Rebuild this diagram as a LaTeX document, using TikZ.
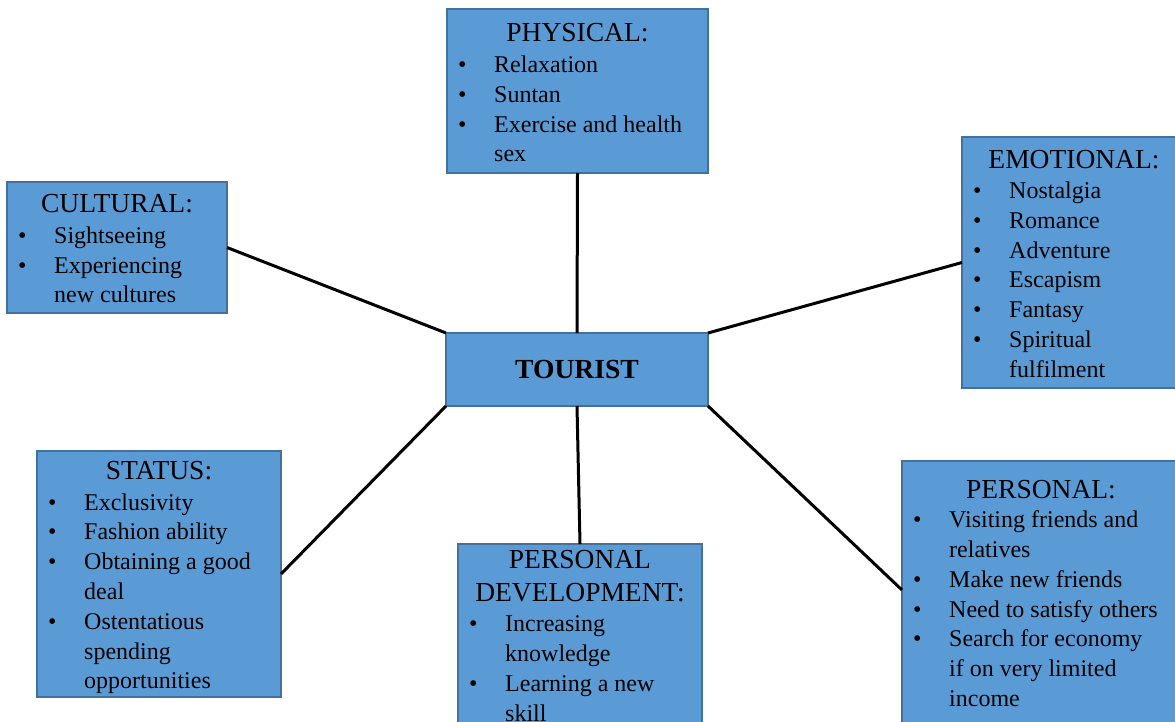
\documentclass[tikz,border=0pt]{standalone}
\usepackage{fontspec}
\setmainfont{Liberation Serif}
\definecolor{boxfill}{HTML}{5B9BD5}
\definecolor{boxline}{HTML}{41719C}
% type sizes for the box headings and the bullet lists
\newcommand\titlesize{\fontsize{27.5}{33}\selectfont}
\newcommand\itemsize{\fontsize{24}{29.8}\selectfont}
% one bulleted line, and a continuation line of the same item
\newcommand\bul[1]{\par\noindent\makebox[47pt][l]{\hspace{11pt}\textbullet}#1}
\newcommand\cont[1]{\par\noindent\hspace*{47pt}#1}
\newcommand\titleblock[1]{\begin{minipage}[t]{300pt}\centering\titlesize #1\end{minipage}}
\newcommand\itemblock[1]{\begin{minipage}[t]{320pt}\raggedright\itemsize #1\end{minipage}}
\begin{document}
\begin{tikzpicture}[x=1pt,y=-1pt,
  box/.style={rectangle, draw=boxline, fill=boxfill, line width=1.3pt,
    inner sep=0pt, outer sep=0pt, anchor=north west},
  ttl/.style={anchor=base, inner sep=0pt},
  itm/.style={anchor=base west, inner sep=0pt},
  link/.style={draw=black, line width=3pt}]
\path[use as bounding box, clip] (0,0) rectangle (1175,722);
\fill[white] (0,0) rectangle (1175,722);

% category boxes
\node[box, minimum width=261pt, minimum height=164pt] (phys) at (447,9) {};
\node[box, minimum width=224pt, minimum height=251pt] (emot) at (962,137) {};
\node[box, minimum width=220pt, minimum height=131pt] (cult) at (7,182) {};
\node[box, minimum width=244pt, minimum height=246pt] (stat) at (37,451) {};
\node[box, minimum width=244pt, minimum height=220pt] (pdev) at (458,544) {};
\node[box, minimum width=278pt, minimum height=300pt] (pers) at (902,461) {};

% central box
\node[box, minimum width=262pt, minimum height=73pt,
  font=\fontsize{27.6}{30}\selectfont\bfseries] (tour) at (446,333) {TOURIST};

% connectors from the centre to each category
\draw[link] (phys.south) -- (tour.north);
\draw[link] (cult.east) -- (tour.north west);
\draw[link] (emot.west) -- (tour.north east);
\draw[link] (stat.east) -- (tour.south west);
\draw[link] (tour.south) -- (pdev.north);
\draw[link] (tour.south east) -- ([yshift=-129pt]pers.north west);

% headings
\node[ttl] (physT) at (577.5,41.7) {\titleblock{PHYSICAL:}};
\node[ttl] (emotT) at (1074,168.3) {\titleblock{EMOTIONAL:}};
\node[ttl] (cultT) at (117,212.7) {\titleblock{CULTURAL:}};
\node[ttl] (statT) at (159,479.3) {\titleblock{STATUS:}};
\node[ttl] (pdevT) at (580,568) {\titleblock{PERSONAL\\DEVELOPMENT:}};
\node[ttl] (persT) at (1041,498.3) {\titleblock{PERSONAL:}};

% bullet lists
\node[itm] (physI) at (447,72.5) {\itemblock{%
  \bul{Relaxation}\bul{Suntan}\bul{Exercise and health}\cont{sex}}};
\node[itm] (emotI) at (962,198.5) {\itemblock{%
  \bul{Nostalgia}\bul{Romance}\bul{Adventure}\bul{Escapism}\bul{Fantasy}%
  \bul{Spiritual}\cont{fulfilment}}};
\node[itm] (cultI) at (7,243.3) {\itemblock{%
  \bul{Sightseeing}\bul{Experiencing}\cont{new cultures}}};
\node[itm] (statI) at (37,510) {\itemblock{%
  \bul{Exclusivity}\bul{Fashion ability}\bul{Obtaining a good}\cont{deal}%
  \bul{Ostentatious}\cont{spending}\cont{opportunities}}};
\node[itm] (pdevI) at (458,631.7) {\itemblock{%
  \bul{Increasing}\cont{knowledge}\bul{Learning a new}\cont{skill}}};
\node[itm] (persI) at (902,527.7) {\itemblock{%
  \bul{Visiting friends and}\cont{relatives}\bul{Make new friends}%
  \bul{Need to satisfy others}\bul{Search for economy}\cont{if on very limited}%
  \cont{income}}};
\end{tikzpicture}
\end{document}
